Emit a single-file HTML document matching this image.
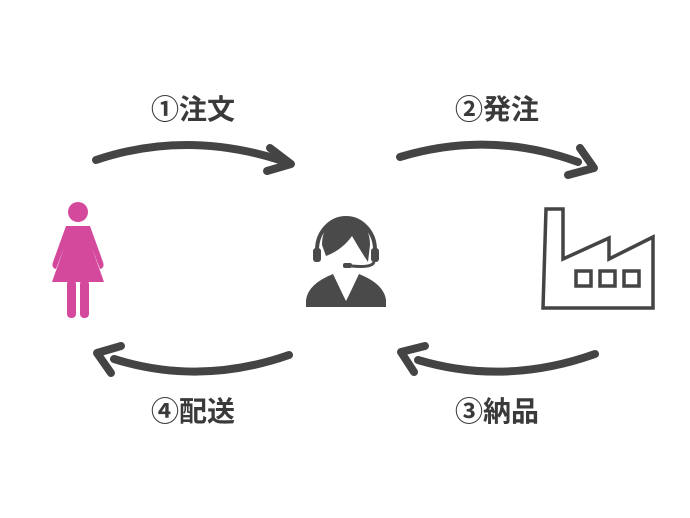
<!DOCTYPE html>
<html><head><meta charset="utf-8"><style>
html,body{margin:0;padding:0;background:#fff;width:690px;height:518px;overflow:hidden}
svg{display:block}
text{font-family:"Liberation Sans","Noto Sans CJK JP",sans-serif;font-weight:bold;font-size:28px;fill:#3a3a3a}
</style></head><body>
<svg width="690" height="518" viewBox="0 0 690 518">
<g fill="none" stroke="#444" stroke-width="8" stroke-linecap="round" stroke-linejoin="round">
<path d="M96 160 Q185 130 280 160"/>
<path d="M270 148 L291 164 L267 171"/>
<path d="M400 157 Q490 130 578 162"/>
<path d="M580 148 L594 168 L568 175"/>
<path d="M114 359 Q200 386 289 355"/>
<path d="M121 346 L97 353 L111 373"/>
<path d="M418 360 Q505 386 595 354"/>
<path d="M425 346 L401 352 L414 372"/>
</g>
<text x="193" y="119" text-anchor="middle">①注文</text>
<text x="497" y="119" text-anchor="middle">②発注</text>
<text x="193" y="421" text-anchor="middle">④配送</text>
<text x="497" y="421" text-anchor="middle">③納品</text>
<g fill="#d5499c">
<circle cx="78" cy="212" r="10"/>
<path d="M66 226 L90 226 L103 262 Q105 268 100 269 L92 248 L104 282 L52 282 L64 248 L56 269 Q51 268 53 262 Z"/>
<rect x="67" y="280" width="9" height="38" rx="4"/>
<rect x="80" y="280" width="9" height="38" rx="4"/>
</g>
<g fill="#4a4a4a">
<path d="M322 245 Q322 220 346 219 Q370 220 370 245 L368 262 Q360 250 352 236 Q342 250 326 256 Z"/>
<path d="M317 250 A29 32 0 0 1 375 250" fill="none" stroke="#4a4a4a" stroke-width="4"/>
<rect x="313" y="248" width="8" height="14" rx="3"/>
<rect x="371" y="248" width="8" height="14" rx="3"/>
<path d="M374 262 Q372 268 352 266" fill="none" stroke="#4a4a4a" stroke-width="3"/>
<rect x="343" y="263" width="9" height="5" rx="2"/>
<path d="M333 274 L343 295 L346 301 L349 295 L359 274 Q384 284 386 300 L386 307 L306 307 L306 300 Q308 284 333 274 Z"/>
</g>
<g fill="none" stroke="#444" stroke-width="3.5" stroke-linejoin="miter">
<path d="M543 308 L546 209 L563 209 L563 259 L609 238 L609 259 L653 237 L653 308 Z"/>
<rect x="576" y="271" width="15" height="15"/>
<rect x="600" y="271" width="15" height="15"/>
<rect x="624" y="271" width="15" height="15"/>
</g>
</svg>
</body></html>
